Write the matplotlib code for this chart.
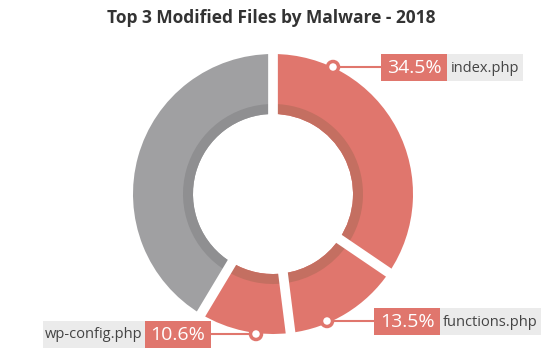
import numpy as np
import matplotlib
matplotlib.use("Agg")
import matplotlib.pyplot as plt
from matplotlib.patches import Rectangle, Circle

plt.rcParams['font.family'] = ['Open Sans', 'DejaVu Sans']

# data
files = ["index.php", "functions.php", "wp-config.php", "other"]
shares = [34.5, 13.5, 10.6, 41.4]
colors = ["#e0766d", "#e0766d", "#e0766d", "#a0a0a2"]
inner_colors = ["#c46f61", "#c46f61", "#c46f61", "#8f8f91"]

W, H = 543, 356
fig = plt.figure(figsize=(W / 100, H / 100), dpi=100)
ax = fig.add_axes([0, 0, 1, 1])

cx, cy = 273, H - 194
R, r_in = 140, 80

ax.pie(shares, colors=colors, startangle=90, counterclock=False,
       radius=R, center=(cx, cy),
       wedgeprops=dict(width=R - r_in, edgecolor='none'))
ax.pie(shares, colors=inner_colors, startangle=90, counterclock=False,
       radius=r_in + 10, center=(cx, cy),
       wedgeprops=dict(width=10, edgecolor='none'))

# white gaps between the slices
bounds = np.concatenate([[0], np.cumsum(shares)[:-1]]) / sum(shares) * 360
for b in bounds:
    a = np.radians(b)
    ax.plot([cx + (r_in - 5) * np.sin(a), cx + (R + 5) * np.sin(a)],
            [cy + (r_in - 5) * np.cos(a), cy + (R + 5) * np.cos(a)],
            color='white', lw=7, solid_capstyle='butt', zorder=2)

ax.set_xlim(0, W)
ax.set_ylim(0, H)
ax.set_aspect('equal')
ax.axis('off')

ax.text(W / 2, H - 18, "Top 3 Modified Files by Malware - 2018",
        ha='center', va='center', fontsize=12.5, fontweight='bold', color='#333333')

red = "#e0766d"
# label layout: marker x, box left x, box centre y (px from top), side, name box width
layout = [
    (333, 381, 67, 'right', 76),
    (327, 374, 321, 'right', 101),
    (256, 145, 334, 'left', 102),
]
box_h = 27
pct_w = 66

for i, (mx, bx, by, side, name_w) in enumerate(layout):
    yy = H - by
    ax.plot([mx, bx], [yy, yy], color=red, lw=1.5, zorder=3)
    ax.add_patch(Circle((mx, yy), 5.5, facecolor='white', edgecolor=red, lw=2.5, zorder=4))
    ax.add_patch(Rectangle((bx, yy - box_h / 2), pct_w, box_h, facecolor=red,
                           edgecolor='none', zorder=3))
    ax.text(bx + pct_w / 2, yy - 1, f"{shares[i]}%", ha='center', va='center',
            fontsize=14, color='white', zorder=5)
    if side == 'right':
        nx = bx + pct_w
    else:
        nx = bx - name_w
    ax.add_patch(Rectangle((nx, yy - box_h / 2), name_w, box_h, facecolor='#ebebeb',
                           edgecolor='none', zorder=3))
    ax.text(nx + name_w / 2, yy - 1, files[i], ha='center', va='center',
            fontsize=10.5, color='#444444', zorder=5)

fig.savefig("out.png", dpi=100)
